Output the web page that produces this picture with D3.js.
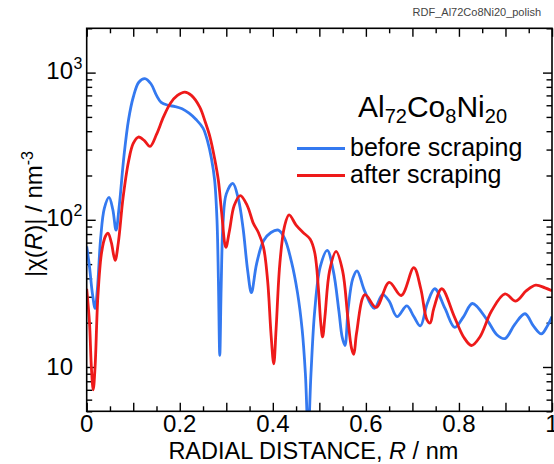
<!DOCTYPE html>
<html>
<head>
<meta charset="utf-8">
<script src="https://cdn.jsdelivr.net/npm/d3@7"></script>
<style>
  body { margin: 0; background: #fff; }
  svg { display: block; font-family: "Liberation Sans", Arial, sans-serif; }
  .frame { fill: none; stroke: #000; stroke-width: 1.6; }
  .tick line { stroke: #000; stroke-width: 1.4; }
  .domain { display: none; }
</style>
</head>
<body>
<div id="container"></div>
<script>
// |chi(R)| vs R
const beforeScraping = [
  [0.000, 66], [0.006, 48], [0.012, 32], [0.018, 25], [0.023, 34], [0.030, 75], [0.038, 120],
  [0.048, 142], [0.056, 118], [0.063, 85], [0.070, 125], [0.080, 270], [0.090, 480],
  [0.100, 680], [0.112, 860], [0.125, 910], [0.138, 840], [0.150, 700], [0.160, 628],
  [0.175, 600], [0.190, 588], [0.205, 568], [0.220, 530], [0.235, 480], [0.250, 420],
  [0.260, 340], [0.268, 262], [0.275, 185], [0.280, 100], [0.283, 40], [0.286, 12],
  [0.289, 35], [0.293, 95], [0.300, 150], [0.314, 177], [0.326, 138], [0.336, 88],
  [0.346, 45], [0.354, 32], [0.365, 50], [0.380, 72], [0.396, 82], [0.412, 85],
  [0.425, 75], [0.440, 52], [0.453, 32], [0.463, 18], [0.470, 9], [0.476, 3.5],
  [0.482, 9], [0.490, 24], [0.502, 48], [0.517, 62], [0.530, 45], [0.542, 24],
  [0.549, 16], [0.555, 14], [0.562, 25], [0.572, 40], [0.581, 45], [0.597, 33],
  [0.618, 25], [0.636, 31], [0.650, 28], [0.667, 22], [0.688, 26], [0.703, 22],
  [0.717, 19], [0.732, 27], [0.748, 34], [0.770, 25], [0.791, 18.6], [0.810, 22],
  [0.829, 27], [0.860, 21], [0.882, 16.5], [0.899, 15.6], [0.920, 19.5], [0.942, 23],
  [0.960, 19], [0.977, 16.8], [0.990, 19], [1.000, 22]
];
const afterScraping = [
  [0.000, 34], [0.006, 20], [0.010, 10], [0.014, 7], [0.018, 10], [0.024, 30], [0.032, 60],
  [0.040, 77], [0.046, 81], [0.053, 70], [0.061, 53], [0.068, 70], [0.078, 140],
  [0.090, 250], [0.100, 330], [0.111, 365], [0.124, 345], [0.136, 315], [0.150, 380],
  [0.165, 500], [0.180, 620], [0.195, 700], [0.211, 738], [0.225, 700], [0.243, 583],
  [0.255, 460], [0.265, 365], [0.275, 260], [0.283, 185], [0.290, 112], [0.299, 65],
  [0.307, 85], [0.317, 125], [0.330, 146], [0.345, 125], [0.358, 95], [0.369, 82],
  [0.380, 65], [0.389, 38], [0.396, 17], [0.402, 10.5], [0.407, 18], [0.415, 50],
  [0.425, 90], [0.435, 108], [0.450, 92], [0.465, 82], [0.480, 74], [0.490, 60],
  [0.498, 34], [0.503, 20], [0.507, 16], [0.512, 22], [0.522, 45], [0.536, 61],
  [0.550, 45], [0.561, 22], [0.569, 13.5], [0.574, 12.2], [0.580, 17], [0.598, 31],
  [0.622, 25.4], [0.650, 37.6], [0.676, 30.6], [0.703, 47.3], [0.718, 34], [0.731, 21],
  [0.738, 19.9], [0.746, 25], [0.763, 34], [0.790, 22], [0.810, 16], [0.827, 14],
  [0.845, 16], [0.870, 24], [0.899, 31.4], [0.922, 28], [0.945, 33], [0.965, 36],
  [0.985, 34.5], [1.000, 33]
];

const xMajor = [0, 0.1, 0.2, 0.3, 0.4, 0.5, 0.6, 0.7, 0.8, 0.9, 1];
const xMinor = [0.05, 0.15, 0.25, 0.35, 0.45, 0.55, 0.65, 0.75, 0.85, 0.95];
const xLabels = [[0, "0"], [0.2, "0.2"], [0.4, "0.4"], [0.6, "0.6"], [0.8, "0.8"], [1, "1"]];
const yMajor = [10, 100, 1000];
const yMinor = [5, 6, 7, 8, 9, 20, 30, 40, 50, 60, 70, 80, 90, 200, 300, 400, 500, 600, 700, 800, 900, 2000];
const yLabels = [[10, ""], [100, "2"], [1000, "3"]];

const W = 554, H = 464;
const plotL = 86.7, plotR = 552, plotT = 28.3, plotB = 411.3;
const blue = "#3479f0", red = "#ee1a1a";

const svg = d3.select('#container').append('svg')
    .attr('width', W)
    .attr('height', H);

const x = d3.scaleLinear().domain([0, 1]).range([plotL, plotR]);
const y = d3.scaleLog().domain([5, 2000]).range([plotB, plotT]);

svg.append('clipPath').attr('id', 'plotclip')
  .append('rect')
    .attr('x', plotL).attr('y', plotT)
    .attr('width', plotR - plotL).attr('height', plotB - plotT);

// inward ticks on all four sides
const addAxis = (axis, tx, ty) => svg.append('g')
    .attr('transform', `translate(${tx}, ${ty})`)
    .call(axis.tickFormat(''));

addAxis(d3.axisBottom(x).tickValues(xMajor).tickSize(-8.5), 0, plotB);
addAxis(d3.axisBottom(x).tickValues(xMinor).tickSize(-5), 0, plotB);
addAxis(d3.axisTop(x).tickValues(xMajor).tickSize(-8.5), 0, plotT);
addAxis(d3.axisTop(x).tickValues(xMinor).tickSize(-5), 0, plotT);
addAxis(d3.axisLeft(y).tickValues(yMajor).tickSize(-9), plotL, 0);
addAxis(d3.axisLeft(y).tickValues(yMinor).tickSize(-5.5), plotL, 0);
addAxis(d3.axisRight(y).tickValues(yMajor).tickSize(-9), plotR, 0);
addAxis(d3.axisRight(y).tickValues(yMinor).tickSize(-5.5), plotR, 0);

const line = d3.line()
    .x(d => x(d[0]))
    .y(d => y(d[1]))
    .curve(d3.curveCatmullRom.alpha(0.5));

const curves = svg.append('g').attr('clip-path', 'url(#plotclip)');
curves.append('path')
    .datum(beforeScraping)
    .attr('d', line)
    .attr('fill', 'none')
    .attr('stroke', blue)
    .attr('stroke-width', 2.8)
    .attr('stroke-linejoin', 'round');
curves.append('path')
    .datum(afterScraping)
    .attr('d', line)
    .attr('fill', 'none')
    .attr('stroke', red)
    .attr('stroke-width', 2.8)
    .attr('stroke-linejoin', 'round');

svg.append('rect')
    .attr('class', 'frame')
    .attr('x', plotL).attr('y', plotT)
    .attr('width', plotR - plotL).attr('height', plotB - plotT);

// tick labels
svg.selectAll('.xlab')
  .data(xLabels)
  .enter()
  .append('text')
    .attr('class', 'xlab')
    .attr('x', d => x(d[0]))
    .attr('y', 432)
    .attr('text-anchor', 'middle')
    .attr('font-size', 24)
    .text(d => d[1]);

const ylab = svg.selectAll('.ylab')
  .data(yLabels)
  .enter()
  .append('g')
    .attr('class', 'ylab');
ylab.append('text')
    .attr('x', 73)
    .attr('y', d => y(d[0]) + (d[1] ? 6.5 : 8.5))
    .attr('text-anchor', 'end')
    .attr('font-size', 24)
    .text('10');
ylab.append('text')
    .attr('x', 73.5)
    .attr('y', d => y(d[0]) - 4)
    .attr('font-size', 16)
    .text(d => d[1]);

// axis titles
svg.append('text')
    .attr('x', (plotL + plotR) / 2 - 6)
    .attr('y', 459)
    .attr('text-anchor', 'middle')
    .attr('font-size', 23.5)
    .call(t => {
        t.append('tspan').text('RADIAL DISTANCE, ');
        t.append('tspan').attr('font-style', 'italic').text('R');
        t.append('tspan').text(' / nm');
    });

svg.append('text')
    .attr('transform', 'translate(42, 214) rotate(-90)')
    .attr('text-anchor', 'middle')
    .attr('font-size', 24)
    .call(t => {
        t.append('tspan').text('|\u03c7(');
        t.append('tspan').attr('font-style', 'italic').text('R');
        t.append('tspan').text(')| / nm');
        t.append('tspan').attr('font-size', 16).attr('dy', -9).text('-3');
    });

// file tag
svg.append('text')
    .attr('x', 541)
    .attr('y', 16)
    .attr('text-anchor', 'end')
    .attr('font-size', 11)
    .attr('fill', '#444')
    .text('RDF_Al72Co8Ni20_polish');

// legend
svg.append('text')
    .attr('x', 358)
    .attr('y', 117)
    .attr('font-size', 30)
    .call(t => {
        t.append('tspan').text('Al');
        t.append('tspan').attr('font-size', 20).attr('dy', 6).text('72');
        t.append('tspan').attr('dy', -6).text('Co');
        t.append('tspan').attr('font-size', 20).attr('dy', 6).text('8');
        t.append('tspan').attr('dy', -6).text('Ni');
        t.append('tspan').attr('font-size', 20).attr('dy', 6).text('20');
    });

const legendItems = [['before scraping', blue, 148.5], ['after scraping', red, 175.5]];
legendItems.forEach(([label, color, ly]) => {
    svg.append('line')
        .attr('x1', 297).attr('x2', 345)
        .attr('y1', ly).attr('y2', ly)
        .attr('stroke', color)
        .attr('stroke-width', 2.8);
    svg.append('text')
        .attr('x', 350)
        .attr('y', ly + 7)
        .attr('font-size', 25)
        .text(label);
});
</script>
</body>
</html>
